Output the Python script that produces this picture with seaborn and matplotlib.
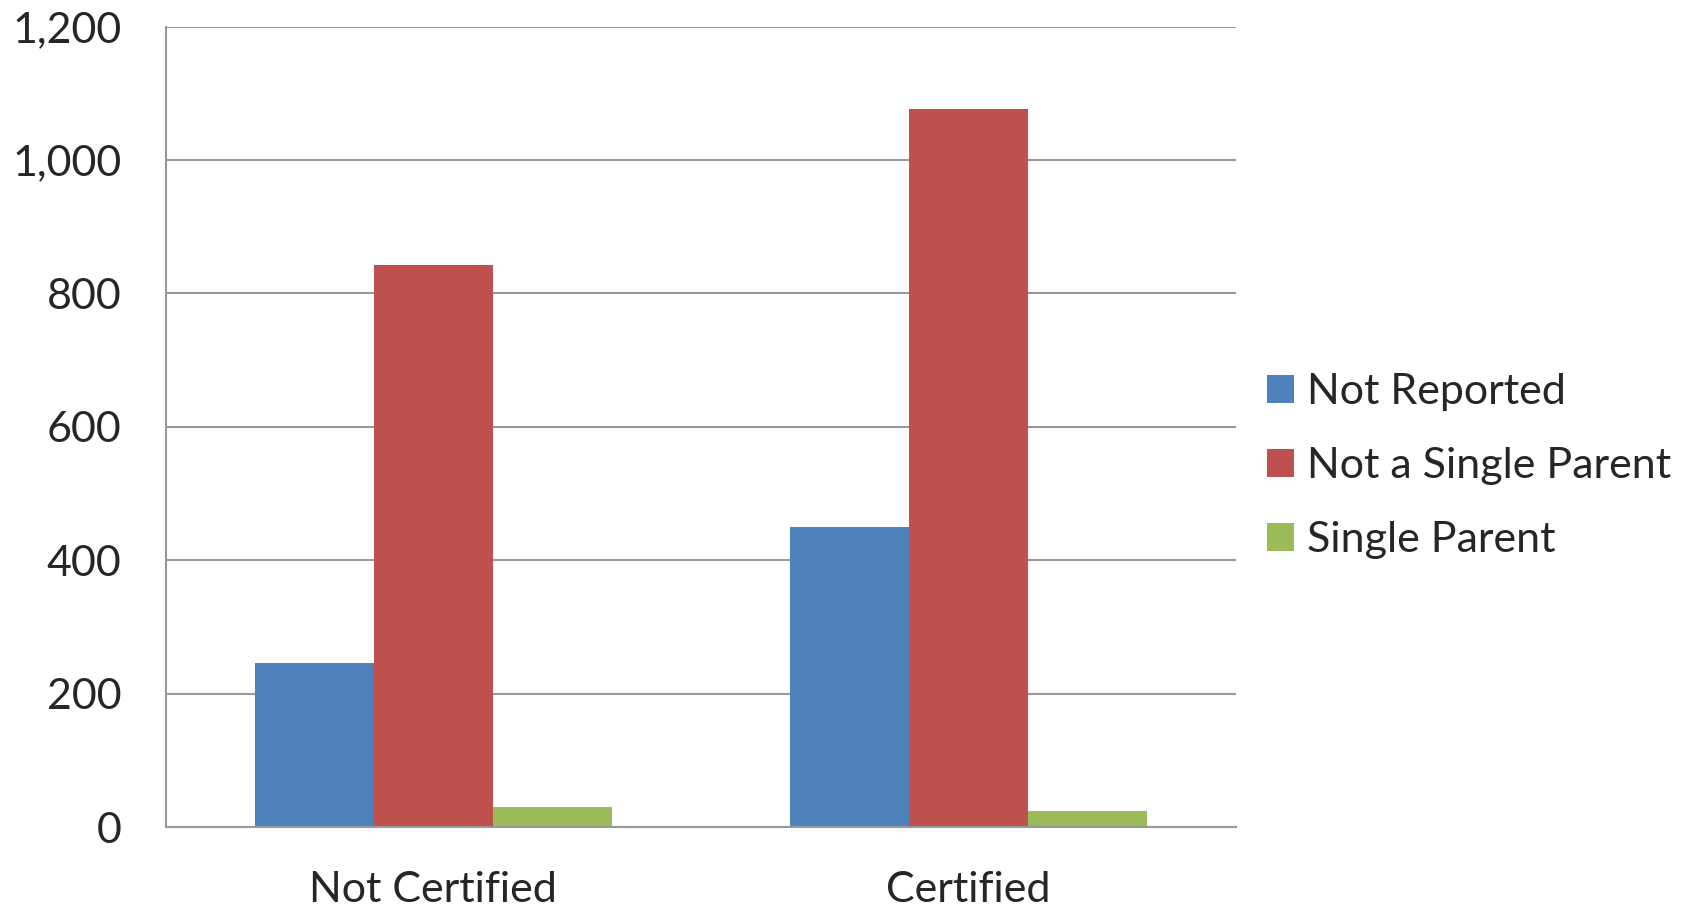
import pandas as pd
import matplotlib.pyplot as plt
import seaborn as sns

categories = ['Not Certified', 'Certified']
groups = ['Not Reported', 'Not a Single Parent', 'Single Parent']
not_reported = [246, 450]
not_single = [842, 1076]
single = [30, 24]
colors = ['#4F81BD', '#C0504D', '#9BBB59']

rows = []
for i, cat in enumerate(categories):
    rows.append({'cat': cat, 'group': groups[0], 'count': not_reported[i]})
    rows.append({'cat': cat, 'group': groups[1], 'count': not_single[i]})
    rows.append({'cat': cat, 'group': groups[2], 'count': single[i]})
data = pd.DataFrame(rows)

sns.set_style('white')
plt.rcParams['font.family'] = ['Lato', 'DejaVu Sans']

fig = plt.figure(figsize=(16.96, 9.07), dpi=100)
ax = fig.add_axes([0.0977, 0.0882, 0.6313, 0.8824])
sns.barplot(data=data, x='cat', y='count', hue='group', order=categories,
            hue_order=groups, palette=colors, width=0.667, saturation=1,
            edgecolor='none', ax=ax, legend=True)

ax.set_xlim(-0.5, 1.5)
ax.set_ylim(0, 1200)
ax.set_yticks(range(0, 1201, 200))
ax.set_yticklabels([f'{v:,}' for v in range(0, 1201, 200)])
ax.yaxis.grid(True, color='#999999', linewidth=1.5)
ax.set_axisbelow(True)
ax.set_xlabel('')
ax.set_ylabel('')

for s in ['top', 'right']:
    ax.spines[s].set_visible(False)
for s in ['left', 'bottom']:
    ax.spines[s].set_color('#999999')
    ax.spines[s].set_linewidth(1.5)

ax.set_xticks([-0.5, 0.5, 1.5], minor=True)
ax.tick_params(axis='x', which='major', length=0, labelsize=31, pad=32)
ax.tick_params(axis='x', which='minor', length=12, width=1.5, color='#999999', direction='out')
ax.tick_params(axis='y', length=14, width=1.5, color='#999999', labelsize=31, pad=18)

handles, labels = ax.get_legend_handles_labels()
ax.legend(handles, labels, loc='center left', bbox_to_anchor=(0.737, 0.486),
          bbox_transform=fig.transFigure, frameon=False, fontsize=31,
          handlelength=0.63, handleheight=0.63, handletextpad=0.3,
          labelspacing=0.84, borderaxespad=0)

fig.savefig('out.png', dpi=100)
